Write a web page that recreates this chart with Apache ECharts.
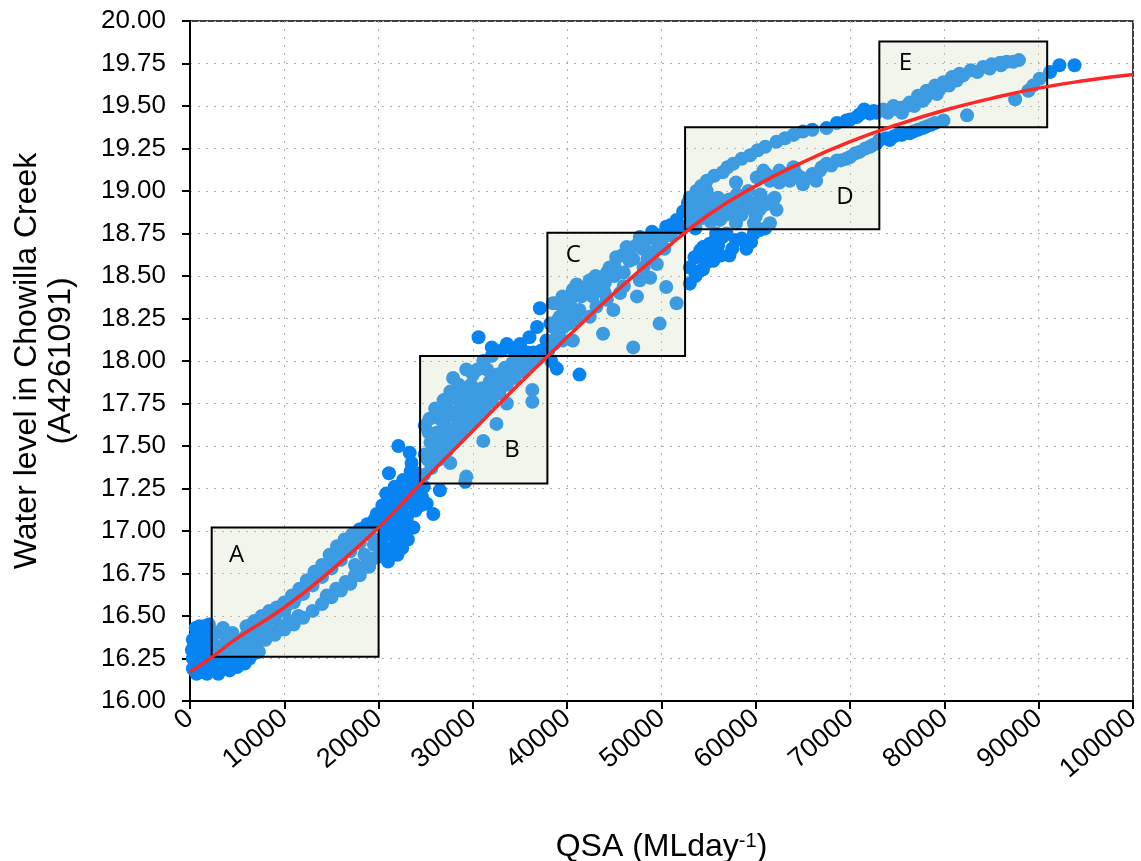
<!DOCTYPE html>
<html>
<head>
<meta charset="utf-8">
<script src="https://cdn.jsdelivr.net/npm/echarts@6/dist/echarts.min.js"></script>
<style>
html,body{margin:0;padding:0;background:#fff;}
#chart{width:1141px;height:861px;}
</style>
</head>
<body>
<div id="chart"></div>
<script>
// ---- Data (QSA in ML/day, water level in m) ----
const xTicks = [0,10000,20000,30000,40000,50000,60000,70000,80000,90000,100000];
const yTicks = [16.00,16.25,16.50,16.75,17.00,17.25,17.50,17.75,18.00,18.25,18.50,18.75,19.00,19.25,19.50,19.75,20.00];

const ptsOrigin = [[300,16.25],[400,16.32],[600,16.38],[800,16.20],[900,16.28],[1100,16.35],[1200,16.42],[1300,16.17],[1500,16.24],[1700,16.31],[1900,16.38],[2000,16.45],[2200,16.19],[2400,16.26],[2600,16.33],[2800,16.40],[3000,16.16],[3300,16.22],[3600,16.29],[3900,16.36],[4200,16.18],[4600,16.24],[5000,16.20],[5400,16.26],[5800,16.22],[6300,16.25],[6800,16.28],[7300,16.29],[1000,16.44],[600,16.43],[300,16.36],[200,16.30],[1600,16.44],[300,16.19],[700,16.16],[1800,16.16],[3500,16.43],[2500,16.19]];

const ptsA = [[6000,16.44],[6800,16.47],[7600,16.50],[8400,16.53],[9200,16.55],[10000,16.58],[10800,16.62],[11600,16.66],[12400,16.71],[13200,16.76],[14000,16.80],[14800,16.86],[15600,16.91],[16400,16.95],[17200,16.98],[18000,17.01],[18800,17.04],[19600,17.07],
[5000,16.36],[6000,16.39],[7000,16.42],[8000,16.45],[9000,16.49],[10000,16.53],[11000,16.58],[12000,16.63],[13000,16.68],[14000,16.73],[15000,16.78],[16000,16.83],[17000,16.88],[18000,16.93],[19000,16.98],
[4000,16.26],[5000,16.29],[6000,16.31],[7000,16.33],[8000,16.36],[9000,16.39],[10000,16.42],[11000,16.45],[12000,16.49],[13000,16.53],[14000,16.57],[15000,16.61],[16000,16.65],[17000,16.69],[18000,16.74],[19000,16.79],[20000,16.85],
[4500,16.40],[3000,16.30],[18500,16.86],[19500,16.92],[17500,16.80],
[6400,16.41],[7200,16.44],[8000,16.48],[8800,16.51],[9600,16.54],[10400,16.57],[11200,16.61],[12000,16.66],[12800,16.70],[13600,16.75],[14400,16.79],[15200,16.84],[16000,16.88],[16800,16.92],[17600,16.95],[18400,16.99],[19200,17.02],[19800,17.04],
[4500,16.30],[5500,16.32],[6500,16.35],[7500,16.38],[8500,16.41],[9500,16.44],[10500,16.47],[11500,16.50],[14500,16.62],[15500,16.66],[16500,16.70],[17500,16.74],[18500,16.79],[19500,16.84]];

const ptsAB = [[20300,16.95],[20600,17.05],[20900,17.12],[21200,16.98],[21500,17.08],[21800,17.18],[22100,17.02],[22400,17.12],[22700,17.22],[23000,17.08],[23300,17.18],[23600,17.28],[23900,17.12],[24200,17.24],[20500,16.88],[21300,16.90],[22000,16.94],[22800,16.98],[23600,17.02],[21100,17.34],[22100,17.50],[23300,17.46],[23500,17.40],[22600,17.30],[21700,17.26],[20400,17.15],[20800,17.22],[24000,17.34],[24600,17.20],[25100,17.16],[25800,17.10],[26500,17.24],[29200,17.29],[23700,17.02],[21900,16.95],[21000,16.82],[22000,16.86],[22500,16.90],[19800,17.10],[24800,17.26],
[20200,17.05],[20700,16.98],[21000,17.05],[21400,17.15],[21800,17.05],[22200,17.20],[22600,17.15],[23000,17.25],[23400,17.35],[23800,17.20],[24200,17.32],[20000,16.95],[22400,17.02],[24400,17.15],[23100,16.95]];

const ptsB = [[24800,17.33],[25600,17.37],[26400,17.42],[27200,17.47],[28000,17.52],[28800,17.57],[29600,17.62],[30400,17.66],[31200,17.71],[32000,17.76],[32800,17.81],[33600,17.86],[34400,17.90],[35200,17.94],[36000,17.98],[36800,18.01],[37600,18.04],
[24900,17.45],[25500,17.52],[26200,17.58],[27000,17.62],[27800,17.68],[28600,17.72],[29400,17.76],[30200,17.80],[31000,17.84],[31800,17.88],[32600,17.92],[33400,17.96],[34200,17.99],[35000,18.02],[35800,18.05],
[24900,17.62],[25400,17.66],[26000,17.72],[26900,17.77],[27600,17.82],[27900,17.90],[28500,17.86],[29300,17.95],[30000,17.92],[31100,18.00],[32000,18.03],[33000,18.06],[34000,18.08],[29000,17.82],
[26000,17.50],[27000,17.55],[28000,17.60],[29000,17.66],[30000,17.70],[31000,17.75],[32000,17.82],[33000,17.88],[34000,17.93],
[29300,17.32],[25800,17.44],[27600,17.40],[31100,17.53],[32500,17.63],[33600,17.75],[36300,17.83],[36300,17.76],
[30600,18.14],[33600,18.10],[35000,18.10],[36000,18.14],[36800,18.20],[37100,18.31],[38500,18.34],[32000,18.08],[34300,18.06],[38900,17.955],[41300,17.92],[38300,18.00],
[25200,17.42],[26000,17.46],[26800,17.52],[27600,17.56],[28400,17.62],[29200,17.70],[30000,17.75],[30800,17.80],[31600,17.85],[32400,17.88],[33200,17.92],[34000,17.97],[34800,18.00],[35600,18.02],[36400,18.05],[37200,18.06],[25300,17.58],[26500,17.66],[27300,17.72],[28200,17.78],[29800,17.86],[30500,17.95],[31500,17.95]];

const ptsC = [[38000,18.06],[38600,18.10],[39200,18.14],[39600,18.20],[40200,18.22],[40600,18.12],[38900,18.14],[38900,18.34],[39800,18.30],[40600,18.42],[41300,18.30],[41500,18.38],[42400,18.475],[42400,18.26],[43100,18.435],[43100,18.32],[43800,18.16],[44200,18.36],[44500,18.55],[44900,18.30],[45200,18.61],[45600,18.40],[46300,18.67],[46600,18.59],[47000,18.08],[47400,18.38],[47700,18.73],[47700,18.475],[48100,18.55],[48800,18.49],[49500,18.71],[49500,18.57],[49800,18.22],[50500,18.79],[50500,18.435],[51600,18.81],[51600,18.34],[40000,18.36],[41000,18.24],[42000,18.40],[43000,18.50],[44000,18.46],[45000,18.50],[46000,18.52],[47000,18.60],[48000,18.66],[49000,18.64],[50000,18.70],[51000,18.74],[52000,18.78],[39200,18.26],[46000,18.44],[38200,18.22],[37800,18.12],
[38500,18.20],[39000,18.24],[39500,18.38],[40300,18.35],[41000,18.45],[41800,18.43],[42700,18.38],[43500,18.42],[44200,18.52],[45000,18.56],[45800,18.62],[46600,18.64],[47300,18.68],[48300,18.71],[49000,18.76],[49800,18.74],[50300,18.66],[51200,18.78],[40500,18.28],[39500,18.12],[48500,18.60],[44000,18.40]];

const ptsCD = [[53000,18.455],[53000,18.55],[54400,18.54],[55500,18.59],[53700,18.61],[54400,18.67],[55800,18.73],[56900,18.75],[54100,18.53],[57200,18.62],[59000,18.66],[55100,18.69],[56500,18.73],[57900,18.71],[59800,18.75],[60400,18.77],[54100,18.65],[53500,18.61],[55800,18.75],[55100,18.65],[51600,18.83],[52300,18.88],[52800,18.93],[51000,18.80],
[56000,18.68],[57500,18.66],[58500,18.72],[59500,18.70],[61000,18.78],[53600,18.50],[54800,18.58],[56300,18.62]];

const ptsD = [[53000,18.96],[53700,19.00],[54200,19.03],[54800,19.06],[55600,19.09],[56500,19.11],[57000,19.14],[57600,19.16],[58500,19.19],[59400,19.21],[60200,19.24],[61000,19.26],[62200,19.29],[63100,19.31],[64000,19.33],[65000,19.35],[66000,19.36],
[52800,18.80],[53300,18.85],[53800,18.90],[54300,18.95],[54800,19.00],[53600,18.78],[54200,18.84],[54700,18.88],
[55500,18.87],[55800,18.91],[56200,18.83],[56800,18.86],[57200,18.95],[57900,18.81],[57900,18.90],[58700,18.965],[58500,18.86],[59800,18.93],[59800,18.81],[60400,18.89],[61500,18.81],[61800,18.95],[62200,18.89],[57900,19.05],[61100,19.10],[62000,18.96],[60500,18.98],[59200,19.00],
[60100,19.08],[61500,19.06],[62500,19.05],[63600,19.06],[65000,19.04],[65700,19.08],[66800,19.12],[67500,19.16],[68600,19.18],[69600,19.19],[71000,19.23],[72100,19.26],[72800,19.28],[63200,19.10],[64300,19.10],[66400,19.06],[62500,19.12],[64000,19.14],[68000,19.15],[70000,19.20],
[53200,18.90],[53800,18.96],[54500,18.92],[55000,18.96],[56000,18.96],[56500,18.92],[57500,18.88],[58000,18.98],[59000,18.90],[60000,18.85],[61000,18.92],[55200,18.82],
[60800,19.12],[62000,19.08],[63000,19.08],[64800,19.08],[66000,19.10],[67000,19.14],[69000,19.18],[70500,19.22],[71600,19.25],[72400,19.27]];

const ptsE = [[67500,19.37],[68600,19.40],[69600,19.415],[70700,19.435],[72100,19.455],[72800,19.46],[71500,19.48],[73500,19.48],[74600,19.50],[75400,19.49],[76300,19.52],[77200,19.56],[78100,19.59],[79000,19.62],[79900,19.64],[80800,19.67],[81600,19.69],[82800,19.71],[84100,19.73],[85000,19.745],[85900,19.755],[86600,19.76],[87300,19.76],[74000,19.46],[75500,19.46],[76800,19.50],[78000,19.55],[79500,19.60],
[73100,19.30],[73800,19.31],[74600,19.32],[75500,19.33],[76300,19.34],[77200,19.36],[78100,19.38],[79000,19.40],[79900,19.415],[82400,19.445],
[87500,19.54],[88900,19.59],[89400,19.62],[90100,19.66],[91200,19.70],[92200,19.74],[93800,19.74],[87900,19.77],
[80500,19.62],[81300,19.65],[82000,19.68],[83500,19.70],[84800,19.72],[86000,19.74],[77700,19.53],[79200,19.57],[75000,19.48],[76000,19.50],[72500,19.47],[70000,19.42],[71000,19.45],
[74200,19.30],[75000,19.33],[77700,19.37],[78600,19.39],[76700,19.35]];

const curveX = [0,2500,5000,10000,15000,20000,25000,30000,35000,40000,45000,50000,55000,60000,65000,70000,75000,80000,85000,90000,95000,100000];
const curveY = [16.17,16.265,16.37,16.55,16.77,17.02,17.31,17.59,17.87,18.14,18.40,18.64,18.86,19.03,19.17,19.29,19.39,19.475,19.545,19.605,19.65,19.685];

const boxNames = ['A','B','C','D','E'];
const boxX = [[2300,20000],[24400,37900],[37900,52500],[52500,73100],[73100,90900]];
const boxY = [[16.26,17.02],[17.28,18.03],[18.03,18.755],[18.775,19.375],[19.375,19.88]];
// label placement inside each box (px from the box top-left)
const boxLabelPos = [[26,29],[93,95],[27,24],[161,71],[27,23]];

const scatterData = [].concat(ptsOrigin, ptsA, ptsAB, ptsB, ptsC, ptsCD, ptsD, ptsE);
const curveData = curveX.map((x,i)=>[x,curveY[i]]);
const areaData = boxNames.map((n,i)=>[
  {name:n, xAxis:boxX[i][0], yAxis:boxY[i][0],
   label:{position:boxLabelPos[i], align:'center', verticalAlign:'middle'}},
  {xAxis:boxX[i][1], yAxis:boxY[i][1]}
]);

const FONT = "'Liberation Sans', Arial, sans-serif";
const chart = echarts.init(document.getElementById('chart'), null, {renderer:'canvas'});
chart.setOption({
  animation:false,
  backgroundColor:'#fff',
  grid:{left:190, right:8, top:21, bottom:160, outerBoundsMode:'none', containLabel:false,
        show:true, borderColor:'#000', borderWidth:1.5, backgroundColor:'transparent'},
  xAxis:{
    type:'value', min:0, max:100000, interval:10000,
    name:'QSA (MLday{sup|-1})', nameLocation:'middle', nameGap:130,
    nameTextStyle:{fontFamily:FONT, fontSize:32, color:'#000',
      rich:{sup:{fontFamily:FONT, fontSize:20, color:'#000', verticalAlign:'top', lineHeight:20, padding:[0,0,14,0]}}},
    axisLine:{show:true, lineStyle:{color:'#000', width:2}},
    axisTick:{show:true, inside:false, length:8, lineStyle:{color:'#000', width:2}},
    axisLabel:{rotate:40, fontFamily:FONT, fontSize:27, color:'#000', margin:14, showMinLabel:true, showMaxLabel:true,
      formatter:v=>String(v)},
    splitLine:{show:true, lineStyle:{color:'#b0b0b0', width:1, type:[2,6]}}
  },
  yAxis:{
    type:'value', min:16, max:20, interval:0.25,
    name:'Water level in Chowilla Creek\n(A4261091)', nameLocation:'middle', nameGap:112, nameRotate:90,
    nameTextStyle:{fontFamily:FONT, fontSize:32, color:'#000', lineHeight:34, align:'center'},
    axisLine:{show:true, lineStyle:{color:'#000', width:2}},
    axisTick:{show:true, inside:false, length:8, lineStyle:{color:'#000', width:2}},
    axisLabel:{fontFamily:FONT, fontSize:26, color:'#000', margin:24, showMinLabel:true, showMaxLabel:true,
      formatter:v=>v.toFixed(2)},
    splitLine:{show:true, lineStyle:{color:'#b0b0b0', width:1, type:[2,6]}}
  },
  series:[
    {type:'scatter', name:'obs', z:2, symbol:'circle', symbolSize:14,
     itemStyle:{color:'#0784F2', opacity:1}, data:scatterData, silent:true},
    {type:'scatter', name:'boxes', z:3, data:[], silent:true,
     markArea:{silent:true, z:3,
       itemStyle:{color:'rgba(206,219,180,0.27)', borderColor:'#000', borderWidth:2},
       label:{show:true, fontFamily:"'Open Sans', sans-serif", fontSize:24, color:'#000'},
       data:areaData}},
    {type:'line', name:'fit', z:4, data:curveData, smooth:true, symbol:'none',
     lineStyle:{color:'#FF2626', width:3.5}, silent:true}
  ]
});
</script>
</body>
</html>
